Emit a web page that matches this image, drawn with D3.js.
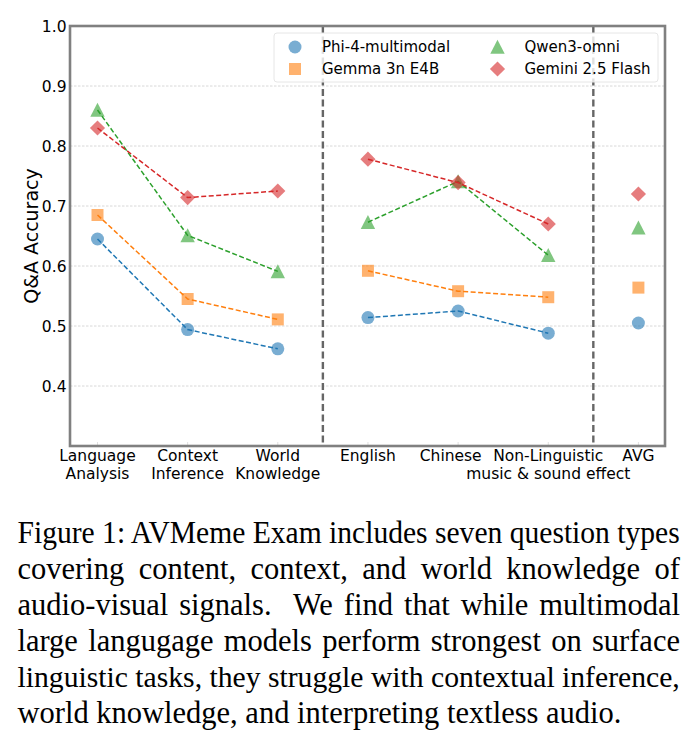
<!DOCTYPE html>
<html>
<head>
<meta charset="utf-8">
<script src="https://cdn.jsdelivr.net/npm/d3@7"></script>
<style>
	html, body { margin: 0; padding: 0; background: #fff; }
	svg { display: block; }
</style>
</head>
<body>
<svg id="plot"></svg>
<script>
const WIDTH = 690;
const HEIGHT = 745;

// x categories, one entry per line of the tick label
// (the source label for Chinese carries trailing spaces, which nudge it left)
const categories = [
	["Language", "Analysis"],
	["Context", "Inference"],
	["World", "Knowledge"],
	["English"],
	["Chinese   "],
	["Non-Linguistic", "music & sound effect"],
	["AVG"],
];
const models = ["Phi-4-multimodal", "Gemma 3n E4B", "Qwen3-omni", "Gemini 2.5 Flash"];
const phiScores = [0.645, 0.494, 0.462, 0.514, 0.525, 0.488, 0.505];
const gemmaScores = [0.685, 0.545, 0.511, 0.592, 0.558, 0.548, 0.564];
const qwenScores = [0.86, 0.651, 0.591, 0.673, 0.741, 0.618, 0.664];
const geminiScores = [0.83, 0.714, 0.725, 0.778, 0.739, 0.67, 0.72];
const lineGroups = [[0, 1, 2], [3, 4, 5]];
const dividerPositions = [2.5, 5.5];
const yTickValues = [0.4, 0.5, 0.6, 0.7, 0.8, 0.9, 1.0];
const yLabel = "Q&A Accuracy";
const captionLines = [
	"Figure 1: AVMeme Exam includes seven question types",
	"covering content, context, and world knowledge of",
	"audio-visual signals.  We find that while multimodal",
	"large langugage models perform strongest on surface",
	"linguistic tasks, they struggle with contextual inference,",
	"world knowledge, and interpreting textless audio.",
];

const colors = ["#1f77b4", "#ff7f0e", "#2ca02c", "#d62728"];
const shapes = ["circle", "square", "triangle", "diamond"];
const series = [phiScores, gemmaScores, qwenScores, geminiScores].map((values, i) => ({
	name: models[i],
	values,
	color: colors[i],
	shape: shapes[i],
}));

const FONT = "'DejaVu Sans', sans-serif";
const LEFT = 70;
const RIGHT = 665;
const TOP = 26;
const BOTTOM = 446;

const plot = d3.select("#plot").attr("width", WIDTH).attr("height", HEIGHT);
plot.append("rect").attr("width", WIDTH).attr("height", HEIGHT).attr("fill", "#fff");

const xScale = d3.scaleLinear([-0.305, 6.295], [LEFT, RIGHT]);
const yScale = d3.scaleLinear([0.3, 1.0], [BOTTOM, TOP]);

// matplotlib-like marker shapes centred on their bounding box
function markerPath(shape) {
	switch (shape) {
		case "circle":
			return "M6.5,0A6.5,6.5 0 1,1 -6.5,0A6.5,6.5 0 1,1 6.5,0Z";
		case "square":
			return "M-6,-6H6V6H-6Z";
		case "triangle":
			return "M0,-7.2L7.2,6.8L-7.2,6.8Z";
		case "diamond":
			return "M0,-7.6L7.6,0L0,7.6L-7.6,0Z";
	}
}

// grid
plot.append("g")
	.selectAll("line")
	.data(yTickValues.filter(v => v < 1))
	.join("line")
	.attr("x1", LEFT)
	.attr("x2", RIGHT)
	.attr("y1", d => yScale(d))
	.attr("y2", d => yScale(d))
	.attr("stroke", "#d8d8d8")
	.attr("stroke-width", 1)
	.attr("stroke-dasharray", "2.5,1.5");

// small inward x ticks
plot.append("g")
	.selectAll("line")
	.data(d3.range(categories.length))
	.join("line")
	.attr("x1", d => xScale(d))
	.attr("x2", d => xScale(d))
	.attr("y1", BOTTOM)
	.attr("y2", BOTTOM - 4)
	.attr("stroke", "#e0e0e0")
	.attr("stroke-width", 1);

// group dividers
plot.append("g")
	.selectAll("line")
	.data(dividerPositions)
	.join("line")
	.attr("x1", d => xScale(d))
	.attr("x2", d => xScale(d))
	.attr("y1", TOP)
	.attr("y2", BOTTOM)
	.attr("stroke", "#666")
	.attr("stroke-width", 2.4)
	.attr("stroke-dasharray", "7,3.5");

// series: dashed connectors inside each group, translucent markers
const line = d3.line();
series.forEach(s => {
	const g = plot.append("g");
	g.selectAll("path.marker")
		.data(s.values)
		.join("path")
		.attr("class", "marker")
		.attr("d", markerPath(s.shape))
		.attr("transform", (d, i) => `translate(${xScale(i)},${yScale(d)})`)
		.attr("fill", s.color)
		.attr("fill-opacity", 0.6);
	g.selectAll("path.connector")
		.data(lineGroups)
		.join("path")
		.attr("class", "connector")
		.attr("d", idx => line(idx.map(i => [xScale(i), yScale(s.values[i])])))
		.attr("fill", "none")
		.attr("stroke", s.color)
		.attr("stroke-width", 1.5)
		.attr("stroke-dasharray", "5,2.5");
});

// frame
plot.append("rect")
	.attr("x", LEFT)
	.attr("y", TOP)
	.attr("width", RIGHT - LEFT)
	.attr("height", BOTTOM - TOP)
	.attr("fill", "none")
	.attr("stroke", "#808080")
	.attr("stroke-width", 2.6);

// y tick labels
plot.append("g")
	.selectAll("text")
	.data(yTickValues)
	.join("text")
	.attr("x", LEFT - 3.5)
	.attr("y", d => yScale(d))
	.attr("dy", "0.36em")
	.attr("text-anchor", "end")
	.attr("font-family", FONT)
	.attr("font-size", 15.5)
	.attr("fill", "#000")
	.text(d3.format(".1f"));

// x tick labels
plot.append("g")
	.selectAll("text")
	.data(categories)
	.join("text")
	.attr("x", (d, i) => xScale(i))
	.attr("y", 461)
	.attr("text-anchor", "middle")
	.attr("font-family", FONT)
	.attr("font-size", 15.5)
	.attr("fill", "#000")
	.style("white-space", "pre")
	.selectAll("tspan")
	.data(d => d)
	.join("tspan")
	.attr("x", function () { return this.parentNode.getAttribute("x"); })
	.attr("dy", (d, i) => (i === 0 ? 0 : 17.8))
	.text(d => d);

// y axis title
plot.append("text")
	.attr("transform", `translate(38,${(TOP + BOTTOM) / 2}) rotate(-90)`)
	.attr("text-anchor", "middle")
	.attr("font-family", FONT)
	.attr("font-size", 19)
	.attr("fill", "#000")
	.text(yLabel);

// legend
const legend = plot.append("g");
legend.append("rect")
	.attr("x", 274)
	.attr("y", 33)
	.attr("width", 384)
	.attr("height", 49)
	.attr("rx", 3)
	.attr("fill", "#fff")
	.attr("fill-opacity", 0.8)
	.attr("stroke", "#e6e6e6")
	.attr("stroke-width", 1);
const legendCols = [295, 497.5];
const legendRows = [47, 69];
const legendItems = legend.selectAll("g.item")
	.data(series)
	.join("g")
	.attr("class", "item")
	.attr("transform", (d, i) => `translate(${legendCols[Math.floor(i / 2)]},${legendRows[i % 2]})`);
legendItems.append("path")
	.attr("d", d => markerPath(d.shape))
	.attr("fill", d => d.color)
	.attr("fill-opacity", 0.6);
legendItems.append("text")
	.attr("x", 27)
	.attr("dy", "0.36em")
	.attr("font-family", FONT)
	.attr("font-size", 15)
	.attr("fill", "#000")
	.text(d => d.name);

// caption, justified like the paper text
const CAPTION_LEFT = 17.5;
const CAPTION_RIGHT = 680;
const captionText = plot.append("g")
	.selectAll("text")
	.data(captionLines)
	.join("text")
	.attr("x", 0)
	.attr("y", 0)
	.attr("transform", (d, i) => `translate(${CAPTION_LEFT},${543 + i * 35.9})`)
	.attr("font-family", "'Liberation Serif', 'Times New Roman', serif")
	.attr("font-size", 30.5)
	.attr("fill", "#000")
	.style("white-space", "pre")
	.text(d => d);
captionText.each(function (d, i) {
	if (i === captionLines.length - 1) return;
	const target = CAPTION_RIGHT - CAPTION_LEFT;
	const natural = this.getComputedTextLength();
	const gaps = (d.match(/ /g) || []).length;
	const extra = (target - natural) / gaps;
	const sel = d3.select(this);
	if (extra >= 0) {
		sel.attr("word-spacing", extra);
	} else {
		// too long for the column: narrow the whole line a little
		const base = sel.attr("transform");
		sel.attr("transform", `${base} scale(${target / natural},1)`);
	}
});
</script>
</body>
</html>
